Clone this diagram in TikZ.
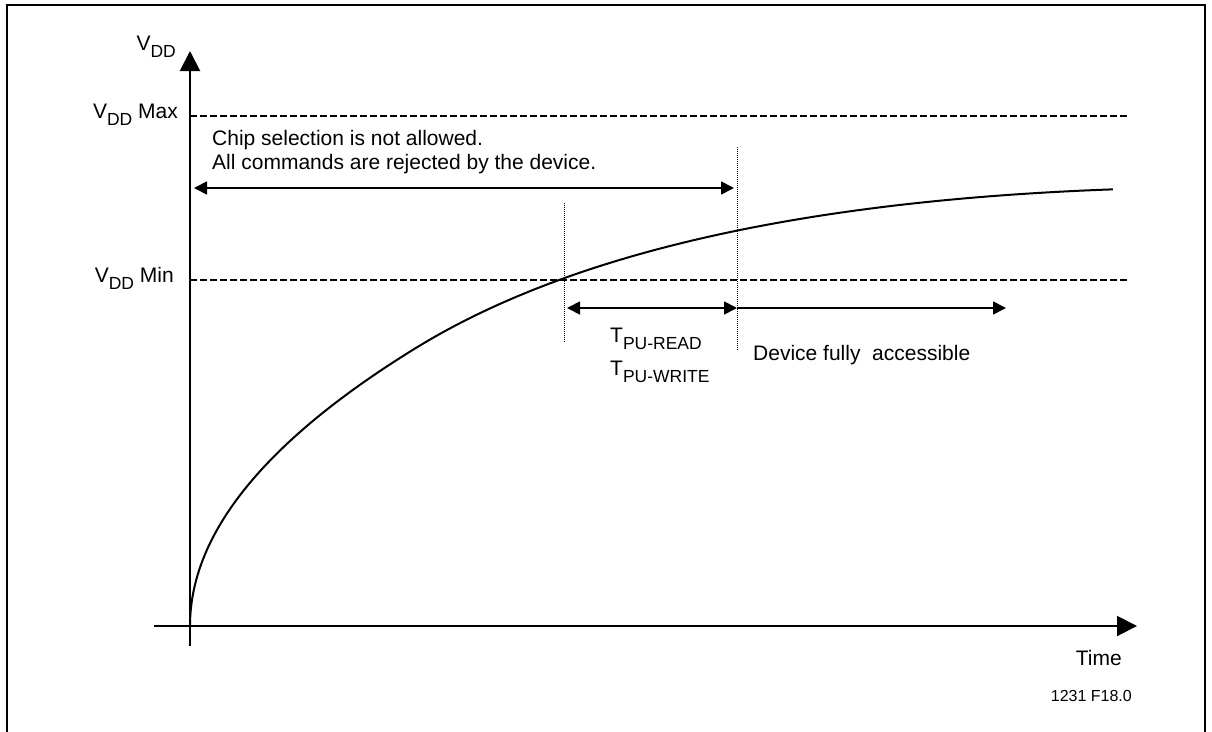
\documentclass[tikz,border=0pt]{standalone}
\usepackage{fontspec}
\setmainfont{Liberation Sans}
\usetikzlibrary{arrows.meta,positioning}
\newcommand{\lowsub}[1]{\raisebox{-7pt}{\fontsize{17.5}{17.5}\selectfont #1}}

\begin{document}
\begin{tikzpicture}[%
    x=1pt, y=-1pt,
    >={Triangle[length=13pt,width=13pt]},
    every node/.style={inner sep=0pt, font=\fontsize{21}{24}\selectfont},
    axis/.style={line width=2pt, -{Triangle[length=20pt,width=20pt]}},
    span/.style={line width=1.8pt},
    level/.style={line width=1.4pt, dash pattern=on 6.5pt off 3.5pt},
    marker/.style={line width=0.8pt, dash pattern=on 1pt off 1pt}
    ]
    \useasboundingbox (0,0) rectangle (1212,731);
    \draw[line width=2pt] (7,735) -- (7,5) -- (1205,5) -- (1205,735);

    \coordinate (ybot)   at (190,646);
    \coordinate (ytop)   at (190,51);
    \coordinate (xleft)  at (154,626);
    \coordinate (xright) at (1137,626);
    \coordinate (maxL)   at (190,116);
    \coordinate (maxR)   at (1127,116);
    \coordinate (minL)   at (190,280);
    \coordinate (minR)   at (1128,280);
    \coordinate (chipL)  at (194,188);
    \coordinate (chipR)  at (734,188);
    \coordinate (puL)    at (567,308);
    \coordinate (puR)    at (737,308);
    \coordinate (fullR)  at (1006,308);
    \coordinate (crossT) at (564,203);
    \coordinate (crossB) at (564,343);
    \coordinate (readyT) at (737,147);
    \coordinate (readyB) at (737,350);

    \draw[axis] (ybot) -- (ytop);
    \draw[axis] (xleft) -- (xright);
    \draw[level] (maxL) -- (maxR);
    \draw[level] (minL) -- (minR);
    \draw[marker] (crossT) -- (crossB);
    \draw[marker] (readyT) -- (readyB);
    \draw[span,<->] (chipL) -- (chipR);
    \draw[span,<->] (puL) -- (puR);
    \draw[span,->] (puR) -- (fullR);

    \draw[line width=2pt, variable=\s, domain=0:30.38, samples=120]
        plot ({190+\s*\s}, {626-18.5*\s+0.53*(max(0,\s-15))^2});

    \node[anchor=base east] (vdd)    at (176,50)  {V\lowsub{DD}};
    \node[anchor=base east] (vddmax) at (178,118) {V\lowsub{DD} Max};
    \node[anchor=base east] (vddmin) at (174,282) {V\lowsub{DD} Min};
    \node[anchor=base west] (chip1)  at (212,145) {Chip selection is not allowed.};
    \node[anchor=base west] (chip2)  at (212,169) {All commands are rejected by the device.};
    \node[anchor=base west] (tread)  at (610,342) {T\lowsub{PU-READ}};
    \node[anchor=base west] (twrite) at (610,375) {T\lowsub{PU-WRITE}};
    \node[anchor=base west] (full)   at (753,360) {Device fully\ \ accessible};
    \node[anchor=base east] (time)   at (1122,665) {Time};
    \node[anchor=base east, font=\fontsize{16}{18}\selectfont] (figid) at (1132,701) {1231 F18.0};
\end{tikzpicture}
\end{document}
